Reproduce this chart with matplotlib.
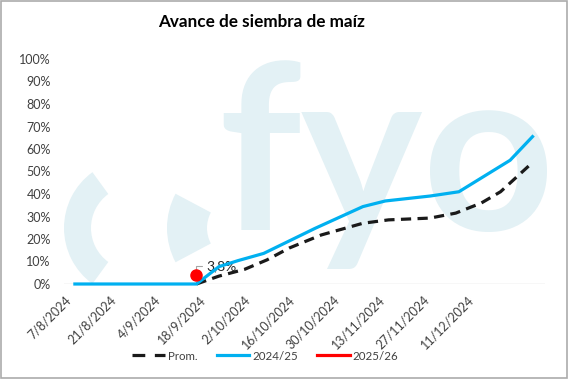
import matplotlib
matplotlib.use("Agg")
import matplotlib.pyplot as plt
from matplotlib.patches import Wedge, Rectangle
from matplotlib.lines import Line2D
from matplotlib.transforms import ScaledTranslation
import pandas as pd

title = "Avance de siembra de maíz"

prom_dates = ["2024-09-14", "2024-09-21", "2024-09-29", "2024-10-06",
              "2024-10-13", "2024-10-23", "2024-11-05", "2024-11-13", "2024-11-26",
              "2024-12-04", "2024-12-12", "2024-12-18", "2024-12-28"]
prom_values = [0.0, 0.035, 0.065, 0.107, 0.16, 0.218, 0.27, 0.285, 0.293,
               0.315, 0.36, 0.41, 0.54]

c2425_dates = ["2024-08-07", "2024-09-14", "2024-09-21", "2024-09-27", "2024-10-05",
               "2024-10-21", "2024-11-05", "2024-11-12", "2024-11-26", "2024-12-05",
               "2024-12-21", "2024-12-28"]
c2425_values = [0.0, 0.0, 0.077, 0.104, 0.136, 0.247, 0.344, 0.369, 0.391, 0.41,
                0.55, 0.655]

c2526_dates = ["2024-09-14"]
c2526_values = [0.038]
c2526_label = "3,8%"

tick_dates = ["2024-08-07", "2024-08-21", "2024-09-04", "2024-09-18", "2024-10-02",
              "2024-10-16", "2024-10-30", "2024-11-13", "2024-11-27", "2024-12-11"]
ytick_values = [0.0, 0.1, 0.2, 0.3, 0.4, 0.5, 0.6, 0.7, 0.8, 0.9, 1.0]

series_names = ["Prom.", "2024/25", "2025/26"]

FONT = ["Lato", "DejaVu Sans"]
plt.rcParams["font.family"] = FONT

W, H = 568, 379
fig = plt.figure(figsize=(W / 100, H / 100), dpi=100)

# --- watermark background (pixel coordinates) ---
bg = fig.add_axes([0, 0, 1, 1])
bg.set_xlim(0, W)
bg.set_ylim(H, 0)
bg.axis("off")
wm = "#e3f1f5"
bg.add_patch(Wedge((133, 228), 69, 126, 234, width=27, color=wm, lw=0))
bg.add_patch(Wedge((240, 228), 73, 152, 208, width=40, color=wm, lw=0))
bg.text(218, 230, "fyo", fontsize=166, fontweight="bold", color=wm,
        ha="left", va="baseline", family=["Lato", "DejaVu Sans"])
bg.add_patch(Rectangle((0.8, 0.8), W - 1.6, H - 1.6, fill=False,
                       edgecolor="#ababab", lw=1.2))

# --- main axes ---
ax = fig.add_axes([64 / W, 1 - 284 / H, (545 - 64) / W, (284 - 59) / H])
ax.set_facecolor("none")

to_d = lambda s: pd.to_datetime(s)
start = pd.Timestamp(tick_dates[0])
ax.set_xlim(start - pd.Timedelta(days=3.4), start + pd.Timedelta(days=146.9))
ax.set_ylim(0, 1.0)

ax.axhline(0, color="#d9d9d9", lw=1.0, zorder=1)

blue = "#00b0f0"
ax.plot(to_d(prom_dates), prom_values, color="#1a1a1a", lw=2.3,
        dashes=(3.2, 2.0), clip_on=False, zorder=3)
ax.plot(to_d(c2425_dates), c2425_values, color=blue, lw=2.3,
        clip_on=False, zorder=4, solid_joinstyle="round")
ax.plot(to_d(c2526_dates), c2526_values, color="#ff0000", lw=2.3, marker="o",
        ms=8, clip_on=False, zorder=5)

ax.annotate(c2526_label, xy=(to_d(c2526_dates[0]), c2526_values[0]),
            xytext=(7, 7), textcoords="offset points", ha="left", va="center",
            fontsize=10, color="#262626",
            arrowprops=dict(arrowstyle="-", color="#a6a6a6", lw=0.8,
                            connectionstyle="angle,angleA=0,angleB=90,rad=0",
                            shrinkA=1, shrinkB=4))

ax.set_yticks(ytick_values)
ax.set_yticklabels([f"{int(round(v * 100))}%" for v in ytick_values])
ax.set_xticks(to_d(tick_dates))
ax.set_xticklabels([f"{d.day}/{d.month}/{d.year}" for d in to_d(tick_dates)],
                   rotation=45, ha="right", va="center", rotation_mode="anchor")
ax.tick_params(axis="both", length=0, labelsize=9, labelcolor="#404040")
ax.tick_params(axis="y", pad=9.5)
ax.tick_params(axis="x", pad=10)
shift = ScaledTranslation(-6 / 100, 0, fig.dpi_scale_trans)
for lbl in ax.get_xticklabels():
    lbl.set_transform(lbl.get_transform() + shift)
for s in ax.spines.values():
    s.set_visible(False)
ax.grid(False)

fig.text(0.46, 1 - 22 / H, title, ha="center", va="center", fontsize=12.3,
         fontweight="bold", color="#000000")

handles = [Line2D([], [], color="#1a1a1a", lw=2.3, dashes=(4.0, 3.0)),
           Line2D([], [], color=blue, lw=2.3),
           Line2D([], [], color="#ff0000", lw=2.3)]
fig.legend(handles, series_names, loc="center", bbox_to_anchor=(0.467, 1 - 356 / H),
           ncol=3, frameon=False, fontsize=8.3, handlelength=2.8, handletextpad=0.25,
           columnspacing=1.7, labelcolor="#404040")

fig.savefig("out.png", dpi=100)
